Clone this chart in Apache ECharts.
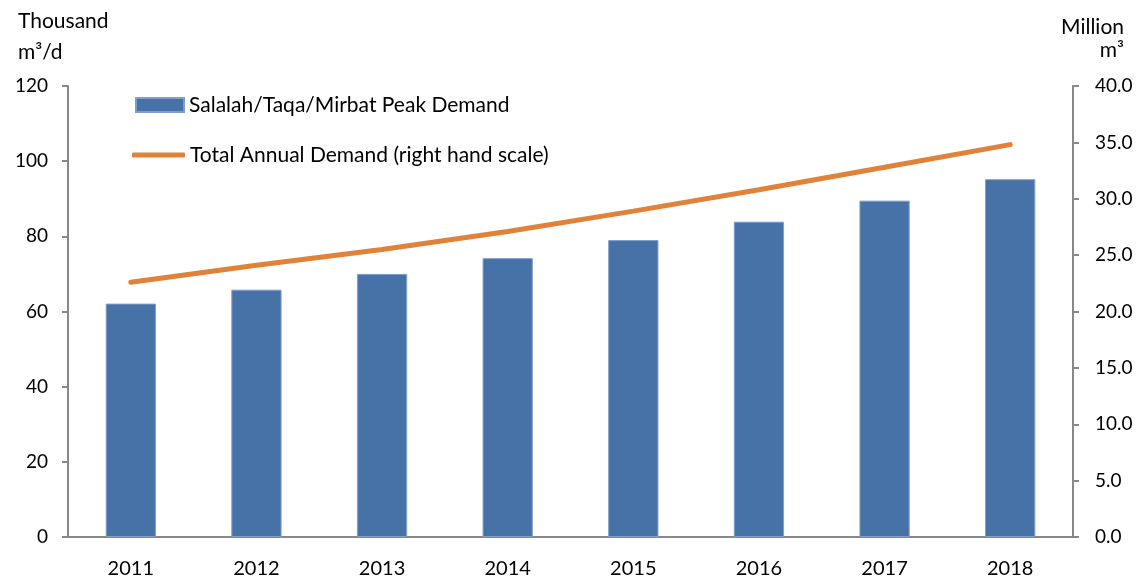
<!DOCTYPE html>
<html>
<head>
<meta charset="utf-8">
<script src="https://cdn.jsdelivr.net/npm/echarts@6/dist/echarts.min.js"></script>
<style>html,body{margin:0;padding:0;background:#fff;}#c{width:1137px;height:579px;}</style>
</head>
<body>
<div id="c"></div>
<script>
const categories = ['2011','2012','2013','2014','2015','2016','2017','2018'];
const peakDemand = [62.1, 65.8, 70.0, 74.2, 79.0, 83.9, 89.5, 95.2];
const annualDemand = [22.6, 24.1, 25.5, 27.1, 28.9, 30.8, 32.8, 34.8];
const barName = 'Salalah/Taqa/Mirbat Peak Demand';
const lineName = 'Total Annual Demand (right hand scale)';
const leftTitle = ['Thousand', 'm³/d'];
const rightTitle = ['Million', 'm³'];

const FONT = 'Lato';
const chart = echarts.init(document.getElementById('c'));
const axisLine = {show: true, lineStyle: {color: '#888888', width: 2}};
chart.setOption({
  animation: false,
  textStyle: {fontFamily: FONT},
  grid: {left: 68, right: 64, top: 86, bottom: 41, containLabel: false},
  legend: [
    {data: [barName], left: 135, top: 94, padding: 0, itemWidth: 48, itemHeight: 14, itemGap: 5,
     textStyle: {fontFamily: FONT, fontSize: 21, lineHeight: 22, color: '#000'}, icon: 'rect'},
    {data: [lineName], left: 132, top: 144, padding: 0, itemWidth: 53, itemHeight: 5,
     textStyle: {fontFamily: FONT, fontSize: 21, lineHeight: 22, color: '#000'}, icon: 'roundRect'}
  ],
  xAxis: {
    type: 'category', data: categories,
    axisLine: axisLine, axisTick: {show: false},
    axisLabel: {color: '#000', fontSize: 20, margin: 22, fontFamily: FONT}
  },
  yAxis: [
    {type: 'value', min: 0, max: 120, interval: 20, position: 'left',
     axisLine: axisLine, axisTick: {show: true, length: 6, lineStyle: {color: '#888', width: 2}},
     splitLine: {show: false},
     axisLabel: {color: '#000', fontSize: 19, margin: 20, fontFamily: FONT}},
    {type: 'value', min: 0, max: 40, interval: 5, position: 'right',
     axisLine: axisLine, axisTick: {show: true, length: 6, lineStyle: {color: '#888', width: 2}},
     splitLine: {show: false},
     axisLabel: {color: '#000', fontSize: 19, margin: 22, fontFamily: FONT, formatter: v => v.toFixed(1)}}
  ],
  series: [
    {name: barName, type: 'bar', data: peakDemand, barWidth: '40%', yAxisIndex: 0,
     itemStyle: {color: '#4672A7', borderColor: '#7f9fc9', borderWidth: 1}},
    {name: lineName, type: 'line', data: annualDemand, yAxisIndex: 1,
     symbol: 'none', smooth: false,
     lineStyle: {color: '#E0823A', width: 5, cap: 'round'},
     itemStyle: {color: '#E0823A'}}
  ],
  graphic: [
    {type: 'text', left: 18, top: 11, style: {text: leftTitle[0], font: '21px ' + FONT, fill: '#000'}},
    {type: 'text', left: 18, top: 42, style: {text: leftTitle[1], font: '21px ' + FONT, fill: '#000'}},
    {type: 'text', right: 13, top: 17, style: {text: rightTitle[0], font: '21px ' + FONT, fill: '#000'}},
    {type: 'text', right: 13, top: 40, style: {text: rightTitle[1], font: '21px ' + FONT, fill: '#000'}}
  ]
});
</script>
</body>
</html>
